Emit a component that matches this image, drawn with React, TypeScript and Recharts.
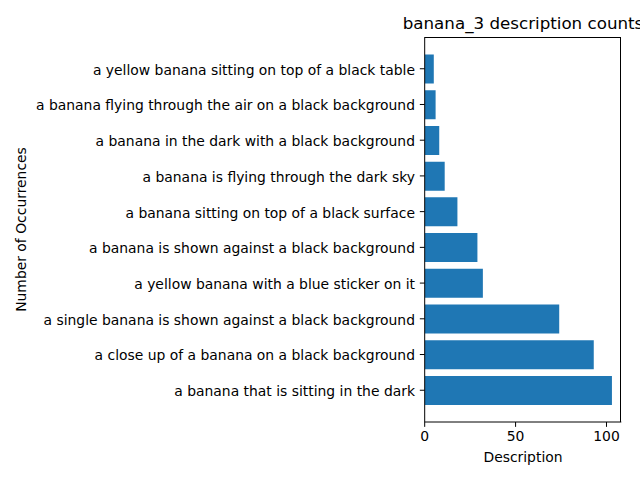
import React from "react";
import { BarChart, Bar, XAxis, YAxis, Label } from "recharts";

const descriptions = [
  "a banana that is sitting in the dark",
  "a close up of a banana on a black background",
  "a single banana is shown against a black background",
  "a yellow banana with a blue sticker on it",
  "a banana is shown against a black background",
  "a banana sitting on top of a black surface",
  "a banana is flying through the dark sky",
  "a banana in the dark with a black background",
  "a banana flying through the air on a black background",
  "a yellow banana sitting on top of a black table",
];
const counts = [103, 93, 74, 32, 29, 18, 11, 8, 6, 5];
const xTicks = [0, 50, 100];
const title = "banana_3 description counts";

const data = descriptions.map((d, i) => ({ name: d, count: counts[i] }));
const maxCount = Math.max(...counts);

const FONT = "DejaVu Sans, sans-serif";
const FS = 13.9;
const TICK = 4.86;

const PLOT_LEFT = 424.7;
const PLOT_TOP = 37;
const PLOT_RIGHT = 621.3;
const PLOT_BOTTOM = 422;

export default function App() {
  return (
    <div style={{ position: "absolute", left: 0, top: 0, width: 640, height: 480, background: "#fff" }}>
      <BarChart
        width={640}
        height={480}
        data={data}
        layout="vertical"
        margin={{ top: PLOT_TOP, right: 640 - PLOT_RIGHT, bottom: 0, left: 0 }}
        barCategoryGap="10%"
      >
        <XAxis
          type="number"
          dataKey="count"
          domain={[0, maxCount * 1.05]}
          ticks={xTicks}
          allowDataOverflow
          height={480 - PLOT_BOTTOM}
          tickSize={TICK}
          tickMargin={4.5}
          axisLine={{ stroke: "#000", strokeWidth: 1 }}
          tickLine={{ stroke: "#000", strokeWidth: 1 }}
          tick={{ fill: "#000", fontFamily: FONT, fontSize: FS }}
        >
          <Label
            content={({ viewBox }: any) => (
              <text
                x={viewBox.x + viewBox.width / 2}
                y={viewBox.y + 35}
                textAnchor="middle"
                dominantBaseline="central"
                fontFamily={FONT}
                fontSize={FS}
                fill="#000"
              >
                Description
              </text>
            )}
          />
        </XAxis>
        <YAxis
          type="category"
          dataKey="name"
          reversed
          width={PLOT_LEFT}
          padding={{ top: 13.9, bottom: 13.9 }}
          tickSize={TICK}
          tickMargin={TICK}
          interval={0}
          axisLine={{ stroke: "#000", strokeWidth: 1 }}
          tickLine={{ stroke: "#000", strokeWidth: 1 }}
          tick={{ fill: "#000", fontFamily: FONT, fontSize: FS, dy: 1 }}
        >
          <Label
            content={({ viewBox }: any) => {
              const cx = 21;
              const cy = viewBox.y + viewBox.height / 2;
              return (
                <text
                  x={cx}
                  y={cy}
                  transform={`rotate(-90 ${cx} ${cy})`}
                  textAnchor="middle"
                  dominantBaseline="central"
                  fontFamily={FONT}
                  fontSize={FS}
                  fill="#000"
                >
                  Number of Occurrences
                </text>
              );
            }}
          />
        </YAxis>
        <Bar dataKey="count" fill="#1f77b4" isAnimationActive={false} />
      </BarChart>
      <div
        style={{
          position: "absolute",
          left: PLOT_LEFT,
          top: PLOT_TOP - 0.5,
          width: PLOT_RIGHT - PLOT_LEFT,
          height: PLOT_BOTTOM - PLOT_TOP,
          borderTop: "1px solid #000",
          borderRight: "1px solid #000",
          boxSizing: "border-box",
          pointerEvents: "none",
        }}
      />
      <div
        style={{
          position: "absolute",
          left: 323,
          width: 400,
          top: 13,
          textAlign: "center",
          fontFamily: FONT,
          fontSize: 16.7,
          color: "#000",
          whiteSpace: "nowrap",
          lineHeight: "20px",
        }}
      >
        {title}
      </div>
    </div>
  );
}
